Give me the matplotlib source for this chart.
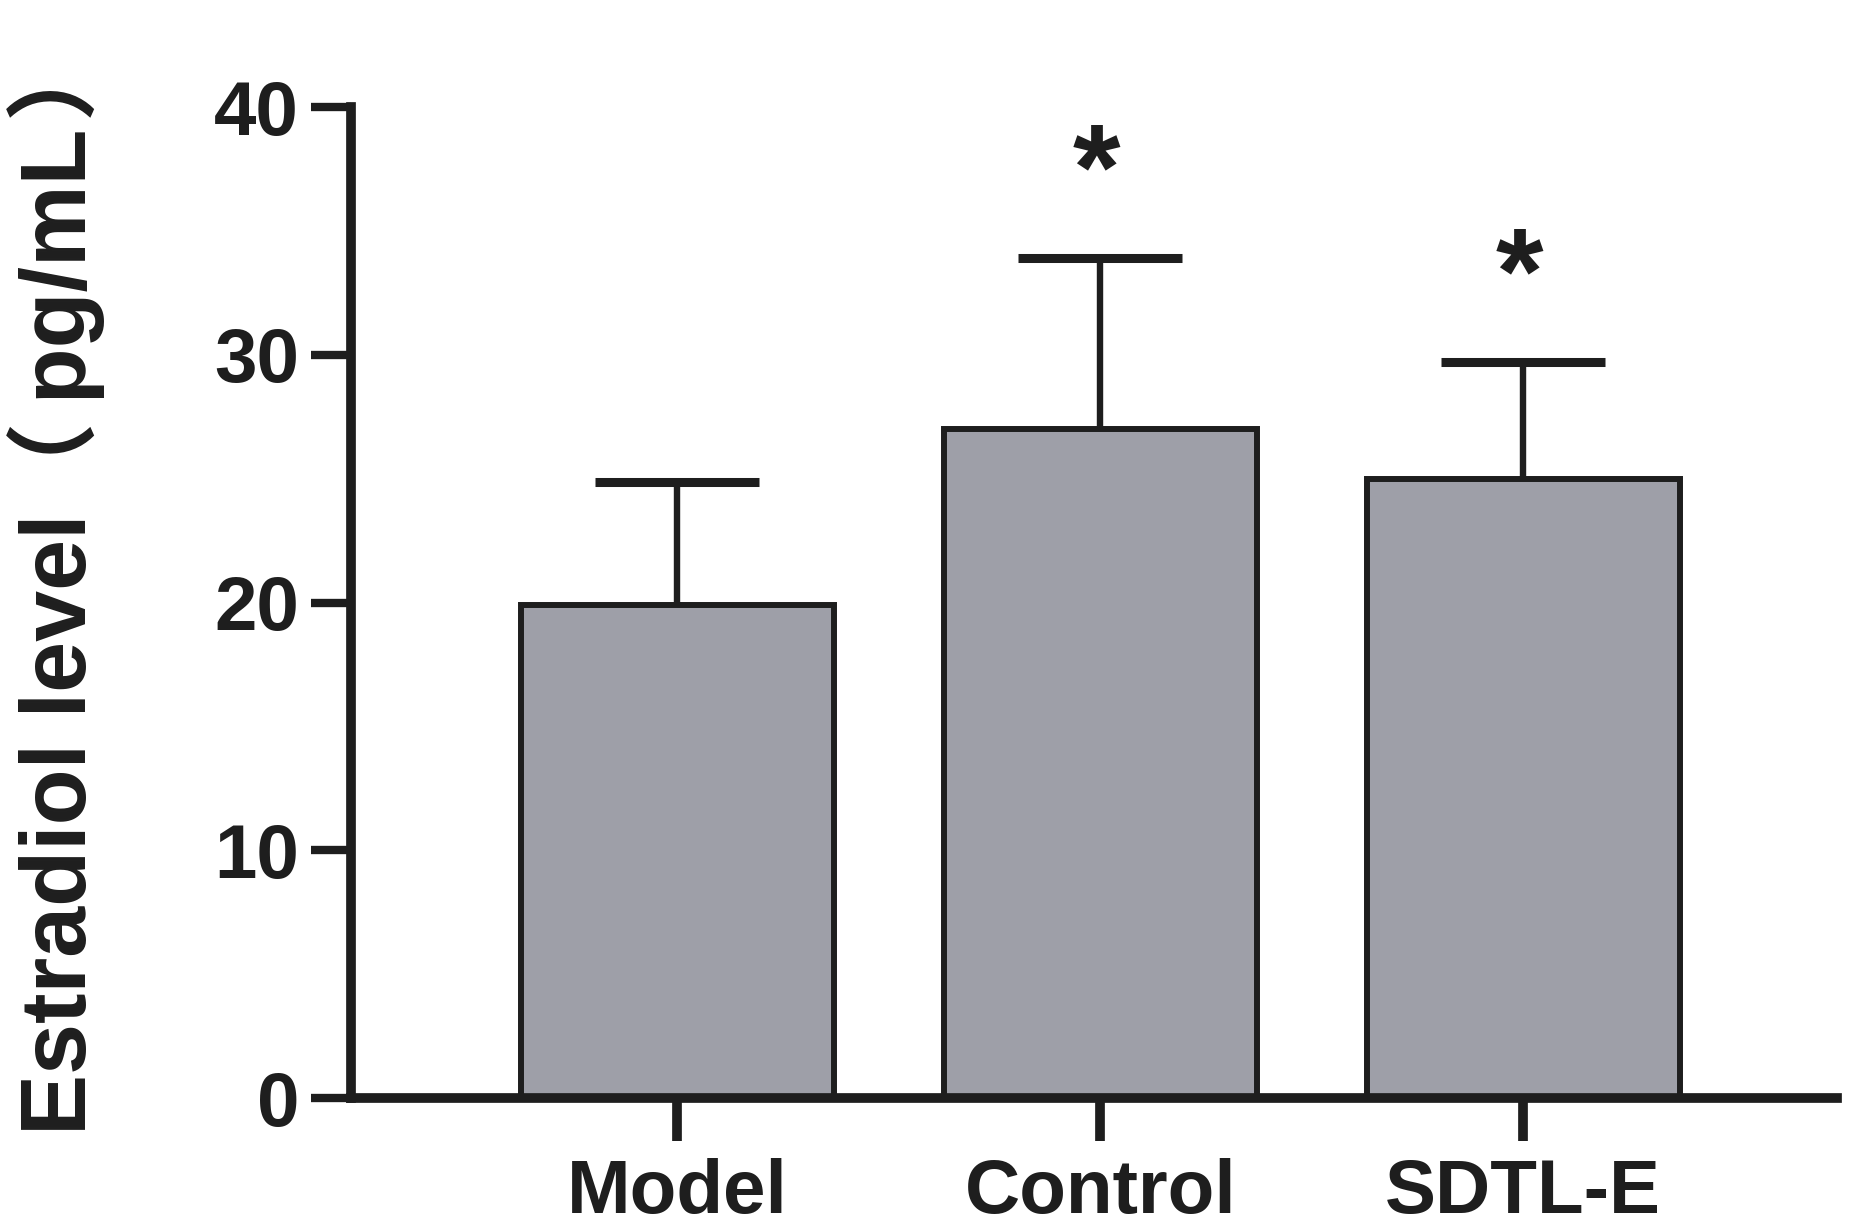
import matplotlib
matplotlib.use('Agg')
import matplotlib.pyplot as plt
import numpy as np

plt.rcParams['font.family'] = ['Liberation Sans', 'Noto Sans CJK SC', 'DejaVu Sans']
plt.rcParams['font.weight'] = 'bold'

# values
groups = ['Model', 'Control', 'SDTL-E']
means = [19.9, 27.0, 25.0]
sds = [4.95, 6.9, 4.7]
stars = ['', '*', '*']
y_ticks = [0, 10, 20, 30, 40]

bar_color = '#9e9fa8'
ink = '#1e1e1e'

fig = plt.figure(figsize=(18.67, 12.30), dpi=100)
ax = fig.add_axes([0.1878, 0.1073, 0.796, 0.8057])

x = np.arange(len(groups))
ax.bar(x, means, width=0.74, color=bar_color, edgecolor=ink, linewidth=4.3, zorder=2)

# upward error bars only (mean + SD)
eb = ax.errorbar(x, means, yerr=[np.zeros(len(sds)), sds], fmt='none',
                 ecolor=ink, elinewidth=4.6, capsize=59, capthick=6.5, zorder=1)
eb[1][0].set_visible(False)

# significance marks above the error bars
for xi, m, s, st in zip(x, means, sds, stars):
    if st:
        ax.text(xi - 0.01, m + s + 2.0, st, ha='center', va='baseline',
                fontsize=88, fontweight='bold', color=ink)

ax.set_xlim(-0.772, 2.741)
ax.set_ylim(0, 40)
ax.set_yticks(y_ticks)
ax.set_xticks(x)
ax.set_xticklabels(groups)

for side in ['top', 'right']:
    ax.spines[side].set_visible(False)
for side in ['left', 'bottom']:
    ax.spines[side].set_linewidth(7)
    ax.spines[side].set_color(ink)
    ax.spines[side].set_capstyle('projecting')

ax.tick_params(axis='y', length=29, width=6, pad=8, labelsize=55, colors=ink)
ax.tick_params(axis='x', length=31, width=7, pad=12, labelsize=55, colors=ink)

fig.text(0.030, 0.077, 'Estradiol level（\u2009pg/mL\u200a）', rotation=90, ha='center',
         va='bottom', fontsize=66, fontweight='bold', color=ink)

fig.savefig('out.png', dpi=100, facecolor='white')
